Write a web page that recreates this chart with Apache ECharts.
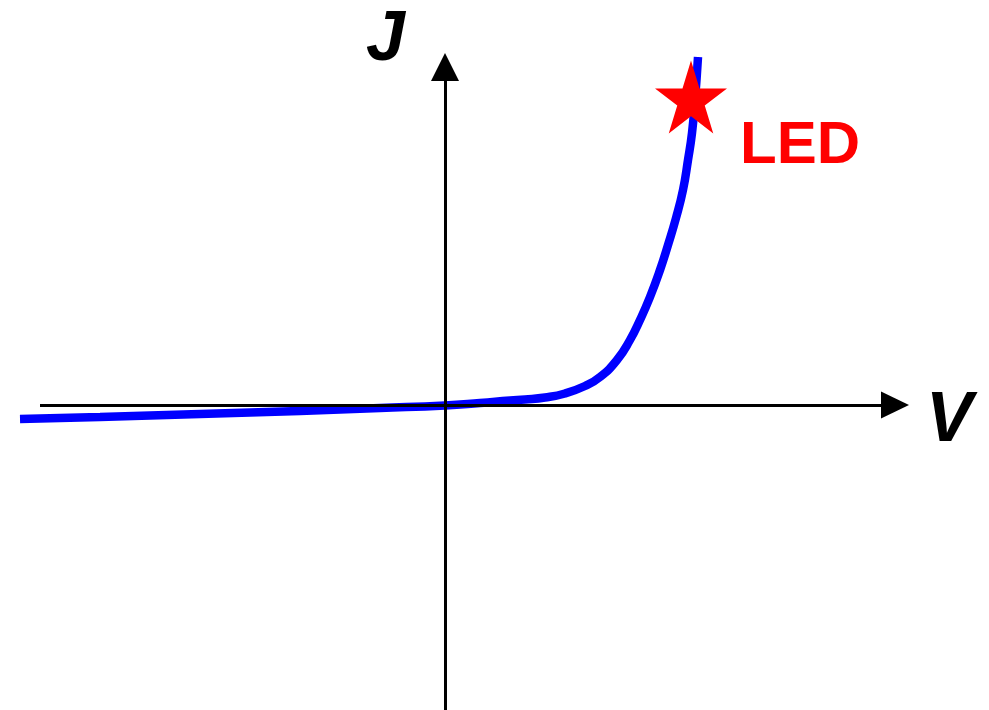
<!DOCTYPE html>
<html>
<head>
<meta charset="utf-8">
<style>
  html, body { margin: 0; padding: 0; background: #fff; }
  #chart { width: 989px; height: 710px; }
</style>
<script src="https://cdn.jsdelivr.net/npm/echarts@6/dist/echarts.min.js"></script>
</head>
<body>
<div id="chart"></div>
<script>
// J-V curve (arbitrary units)
var voltage = [-4.25, -3.45, -2.45, -1.45, -0.65, 0, 0.35, 0.65, 0.80, 1.00, 1.20, 1.40, 1.55, 1.72, 1.85, 1.95, 2.05, 2.15, 2.23, 2.31, 2.38, 2.43, 2.47, 2.50, 2.53];
var current = [-0.14, -0.12, -0.09, -0.06, -0.03, -0.005, 0.02, 0.045, 0.055, 0.075, 0.115, 0.19, 0.28, 0.45, 0.65, 0.85, 1.08, 1.35, 1.60, 1.87, 2.15, 2.45, 2.72, 3.05, 3.48];
// LED operating point
var ledPoint = [2.46, 3.08];
var ledLabel = 'LED';
// V axis drawn from here to the arrow
var vAxisStart = -4.05;
var vAxisEnd = 4.5;

var curve = voltage.map(function (v, i) { return [v, current[i]]; });

var starPath = 'path://M0,-50L11.23,-15.45L47.55,-15.45L18.16,5.9L29.39,40.45L0,19.1L-29.39,40.45L-18.16,5.9L-47.55,-15.45L-11.23,-15.45Z';

var chart = echarts.init(document.getElementById('chart'));
chart.setOption({
  animation: false,
  grid: { left: 20, right: 94, top: 67, bottom: 0 },
  xAxis: {
    type: 'value',
    min: -4.25,
    max: 4.5,
    axisLine: { show: false },
    axisTick: { show: false },
    axisLabel: { show: false },
    splitLine: { show: false }
  },
  yAxis: {
    type: 'value',
    min: -3.05,
    max: 3.38,
    z: 4,
    axisLine: {
      show: true,
      onZero: true,
      lineStyle: { color: '#000', width: 3 },
      symbol: ['none', 'triangle'],
      symbolSize: [28, 28]
    },
    axisTick: { show: false },
    axisLabel: { show: false },
    splitLine: { show: false }
  },
  graphic: [
    { type: 'text', left: 366, top: 6, style: { text: 'J', font: 'italic bold 70px "Liberation Sans", Arial, sans-serif', fill: '#000' } },
    { type: 'text', left: 926, top: 387, style: { text: 'V', font: 'italic bold 70px "Liberation Sans", Arial, sans-serif', fill: '#000' } },
    { type: 'text', left: 740, top: 116, style: { text: ledLabel, font: 'bold 60px "Liberation Sans", Arial, sans-serif', fill: '#ff0000' } }
  ],
  series: [
    {
      type: 'line',
      data: curve,
      smooth: 0.5,
      showSymbol: false,
      clip: false,
      z: 2,
      lineStyle: { color: '#0000ff', width: 8.5 },
      markLine: {
        silent: true,
        z: 4,
        symbol: ['none', 'triangle'],
        symbolSize: [27, 28],
        label: { show: false },
        lineStyle: { color: '#000', width: 3, type: 'solid' },
        data: [[{ coord: [vAxisStart, 0] }, { coord: [vAxisEnd, 0] }]]
      }
    },
    {
      type: 'scatter',
      data: [ledPoint],
      symbol: starPath,
      symbolSize: [72, 73],
      clip: false,
      z: 10,
      itemStyle: { color: '#ff0000', opacity: 1 }
    }
  ]
});
</script>
</body>
</html>
